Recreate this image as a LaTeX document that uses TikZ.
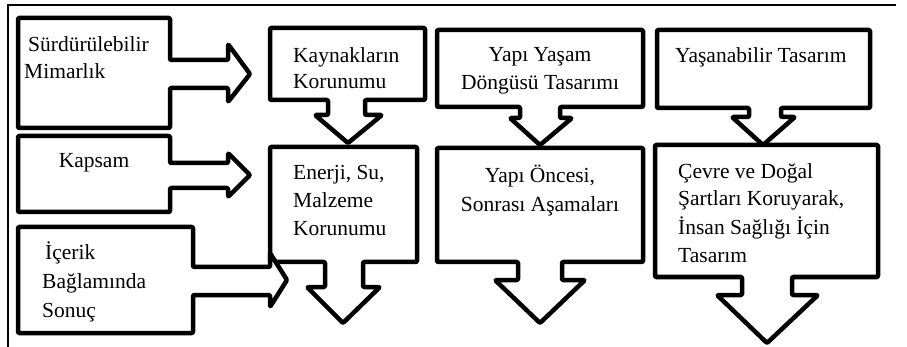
\documentclass[tikz,border=0pt]{standalone}
\usepackage{fontspec}
\setmainfont{Liberation Serif}

\tikzset{
  callout/.style={draw, fill=white, line width=4.5pt, line join=round, rounded corners=1pt},
  txt/.style={inner sep=0pt, align=left, anchor=base west, font=\fontsize{21.5}{28}\selectfont},
  ctxt/.style={inner sep=0pt, align=center, anchor=base, font=\fontsize{21.5}{28}\selectfont},
}

\begin{document}
\begin{tikzpicture}[x=1pt, y=-1pt]
  \useasboundingbox (0,0) rectangle (907,347);

  % frame
  \draw[line width=1.5pt] (8,347) -- (8,5);
  \draw[line width=2pt] (7.25,5) -- (896,5);

  % left column: right arrow callouts
  \draw[callout] (18,18) -- (170,18) -- (170,60) -- (228,60) -- (228,44) -- (250,74)
    -- (228,102) -- (228,88) -- (170,88) -- (170,128) -- (18,128) -- cycle;
  \draw[callout] (18,136) -- (170,136) -- (170,163) -- (228,163) -- (228,153) -- (250,175)
    -- (228,197) -- (228,188) -- (170,188) -- (170,212) -- (18,212) -- cycle;

  % middle columns: down arrow callouts
  \draw[callout] (270,28) -- (425,28) -- (425,100) -- (365,100) -- (365,115) -- (382,115)
    -- (348,143) -- (315,115) -- (328,115) -- (328,100) -- (270,100) -- cycle;
  \draw[callout] (270,147) -- (417,147) -- (417,262) -- (363,262) -- (363,287) -- (380,287)
    -- (343,323) -- (307,287) -- (325,287) -- (325,262) -- (270,262) -- cycle;

  \draw[callout] (437,30) -- (643,30) -- (643,107) -- (560,107) -- (560,118) -- (572,118)
    -- (540,145) -- (510,118) -- (520,118) -- (520,107) -- (437,107) -- cycle;
  \draw[callout] (437,148) -- (643,148) -- (643,262) -- (562,262) -- (562,280) -- (585,280)
    -- (540,323) -- (495,280) -- (518,280) -- (518,262) -- (437,262) -- cycle;

  \draw[callout] (657,30) -- (870,30) -- (870,108) -- (781,108) -- (781,117) -- (795,117)
    -- (763,145) -- (732,117) -- (749,117) -- (749,108) -- (657,108) -- cycle;
  \draw[callout] (655,145) -- (878,145) -- (878,277) -- (792,277) -- (792,295) -- (818,295)
    -- (767,343) -- (717,295) -- (742,295) -- (742,277) -- (655,277) -- cycle;

  % last one lies over the box beside it
  \draw[callout] (18,227) -- (193,227) -- (193,267) -- (270,267) -- (270,253) -- (287,280)
    -- (270,307) -- (270,295) -- (193,295) -- (193,333) -- (18,333) -- cycle;

  % texts (base = baseline of the last line)
  \node[txt, font=\fontsize{21.5}{27}\selectfont] (surd) at (24,79) {\hspace*{4pt}Sürdürülebilir\\Mimarlık};
  \node[ctxt] (kapsam) at (94,168) {Kapsam};
  \node[txt, font=\fontsize{21.5}{29}\selectfont] (icerik) at (42,317) {\hspace*{3pt}İçerik\\Bağlamında\\Sonuç};

  \node[txt, font=\fontsize{21.5}{26}\selectfont] (kaynak) at (293,89) {Kaynakların\\Korunumu};
  \node[txt] (enerji) at (293,236) {Enerji, Su,\\Malzeme\\Korunumu};

  \node[ctxt] (dongu) at (540,90) {Yapı Yaşam\\Döngüsü Tasarımı};
  \node[ctxt, font=\fontsize{21.5}{29}\selectfont] (once) at (540,212) {Yapı Öncesi,\\Sonrası Aşamaları};

  \node[txt] (yasan) at (675,63) {Yaşanabilir Tasarım};
  \node[txt] (cevre) at (678,262) {Çevre ve Doğal\\Şartları Koruyarak,\\İnsan Sağlığı İçin\\Tasarım};
\end{tikzpicture}
\end{document}
